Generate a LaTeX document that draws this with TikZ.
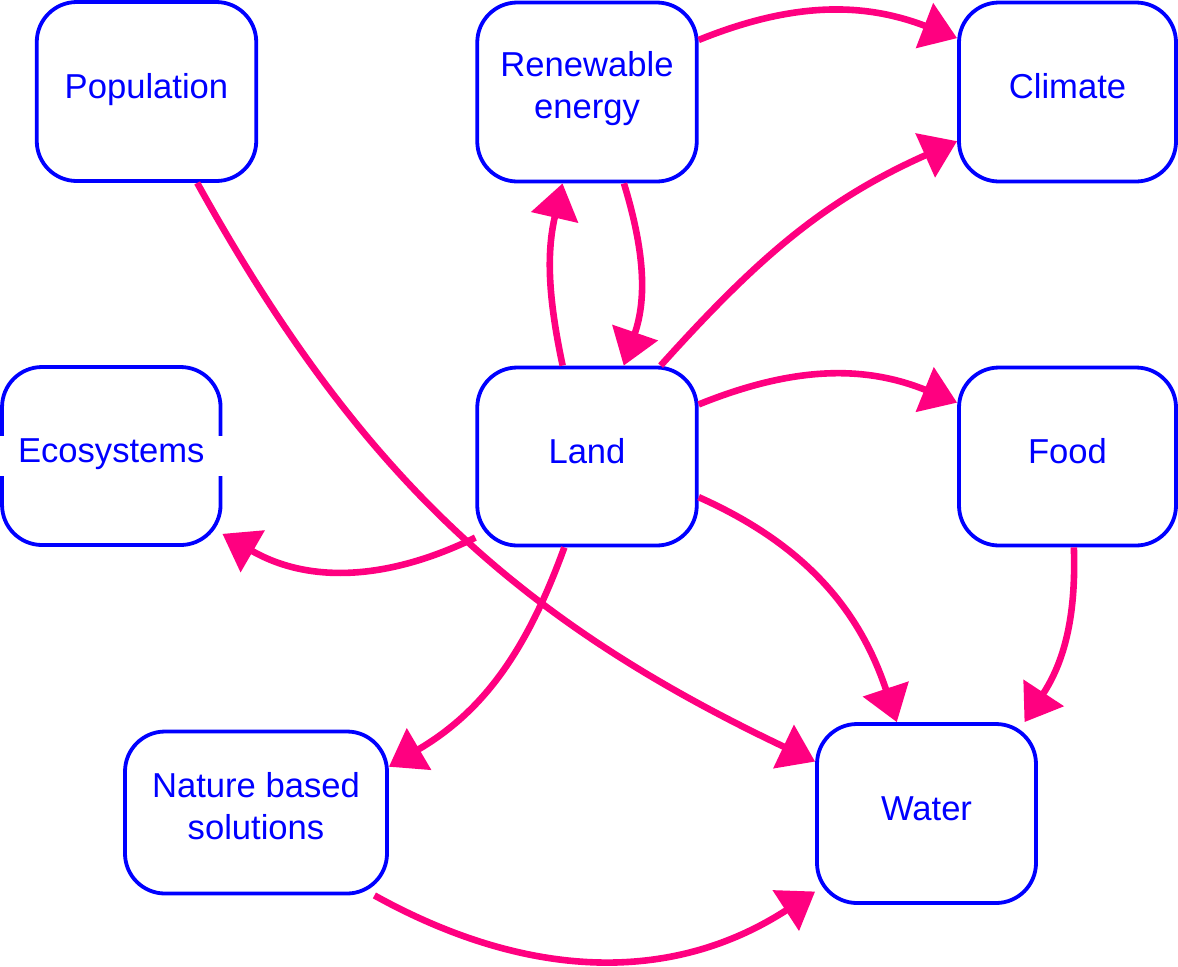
\documentclass[tikz,border=0pt]{standalone}
\usepackage{fontspec}
\setmainfont{Liberation Sans}
\usetikzlibrary{arrows.meta}
\definecolor{linkpink}{RGB}{255,0,128}

\begin{document}
\begin{tikzpicture}[x=0.5pt,y=-0.5pt,
  box/.style={draw=blue,text=blue,line width=1.9pt,rounded corners=20pt,
    minimum width=109.75pt,minimum height=89.5pt,align=center,
    text height=12.5pt,text depth=5.7pt,
    font=\fontsize{17.3}{21}\selectfont},
  twolines/.style={text height=33.6pt,text depth=7pt},
  link/.style={draw=linkpink,line width=3.3pt,
    -{Triangle[length=17.5pt,width=23.5pt]}}]
\useasboundingbox (0,0) rectangle (1178,966);
%top row
\node[box] (pop) at (146.5,91.5) {Population};
\node[box,twolines] (ren) at (587,92) {Renewable\\energy};
\node[box,minimum width=108.5pt] (cli) at (1067.5,92) {Climate};
%middle row
\node[box,minimum width=109.25pt,minimum height=89pt,
  label={[fill=white,text=blue,inner sep=0pt,minimum width=111.5pt,minimum height=20pt,
  text height=12.5pt,text depth=5.7pt,
  font=\fontsize{17.3}{21}\selectfont]center:Ecosystems}] (eco) at (111.3,456) {};
\node[box,minimum height=89pt] (land) at (587,456.5) {Land};
\node[box,minimum width=108.5pt,minimum height=89pt] (food) at (1067.5,456.5) {Food};
%bottom row
\node[box,twolines,minimum width=131pt,minimum height=81pt] (nbs) at (256,812.5) {Nature based\\solutions};
\node[box,minimum width=109.5pt] (water) at (926.5,813.5) {Water};
%arrows
\draw[link] (ren.25.3) to[out=22,in=159] (cli.154.4);
\draw[link] (land.51.6) to[out=48,in=204] (cli.204);
\draw[link] (ren.-68.6) to[out=-73,in=71] (land.68);
\draw[link] (land.105) to[out=102,in=257] (ren.-105.2);
\draw[link] (land.25.1) to[out=22,in=158] (food.154.6);
\draw[link] (land.216.2) to[out=206,in=330] (eco.-35.2);
\draw[link] (land.-20.2) to[out=-24,in=108.4] (water.108.3);
\draw[link] (land.256.2) to[out=250,in=30.4] (nbs.19.6);
\draw[link] (pop.-61.8) to[out=-61,in=154.6] (water.155.4);
\draw[link] (food.-86.5) to[out=-88,in=56.7] (water.43.5);
\draw[link] (nbs.-35.7) to[out=-29,in=213] (water.215.2);
\end{tikzpicture}
\end{document}
